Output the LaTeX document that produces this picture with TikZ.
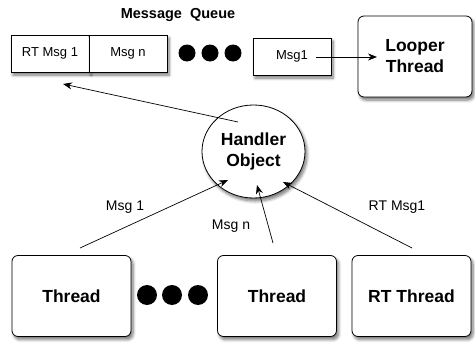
\documentclass[tikz,border=0pt]{standalone}
\usepackage{fontspec}
\setmainfont{Liberation Sans}
\usetikzlibrary{shapes.geometric,arrows.meta,shadows.blur}
\begin{document}
\begin{tikzpicture}[x=1pt,y=-1pt,
  shd/.style={blur shadow={shadow xshift=2pt,shadow yshift=-3pt,shadow blur steps=6,shadow blur radius=3pt,shadow opacity=55}},
  qbox/.style={draw,line width=0.8pt,fill=white,minimum width=78pt,minimum height=37pt,inner sep=0pt,font=\fontsize{13}{15}\selectfont,shd},
  tbox/.style={draw,rounded corners=6pt,line width=0.8pt,fill=white,minimum width=119pt,minimum height=81pt,inner sep=0pt,align=center,font=\bfseries\fontsize{17.5}{21}\selectfont,shd},
  bdot/.style={circle,fill=black,inner sep=0pt,minimum size=#1},
  arr/.style={-{Stealth[length=9pt,width=7pt]},line width=0.7pt},
  lab/.style={font=\fontsize{14}{16}\selectfont}]
\useasboundingbox (0,0) rectangle (475,343);
% title
\node[font=\bfseries\fontsize{14.5}{17}\selectfont] (title) at (178,15) {Message\ \ Queue};
% queue
\node[qbox] (q1) at (50,53.5) {RT Msg 1};
\node[qbox] (q2) at (128,53.5) {Msg n};
\node[bdot=17pt] (d1) at (187,53) {};
\node[bdot=17pt] (d2) at (210,53) {};
\node[bdot=17pt] (d3) at (233,53) {};
\node[qbox] (q3) at (292,56.5) {Msg1};
\node[tbox,minimum width=114pt] (looper) at (415,56.5) {Looper\\Thread};
% handler
\node[ellipse,draw,line width=0.8pt,fill=white,minimum width=103pt,minimum height=93pt,inner sep=0pt,align=center,font=\bfseries\fontsize{17.5}{21}\selectfont,shd] (ho) at (253.5,151.5) {Handler\\Object};
% bottom
\node[tbox] (t1) at (71.5,296) {Thread};
\node[bdot=20pt] (e1) at (147,295) {};
\node[bdot=20pt] (e2) at (172,295) {};
\node[bdot=20pt] (e3) at (198,295) {};
\node[tbox] (t2) at (277,296) {Thread};
\node[tbox] (t3) at (411.5,296) {RT Thread};
% connector end points
\coordinate (q3s) at (316,57);
\coordinate (lin) at (377,57);
\coordinate (hos) at (238,122);
\coordinate (qin) at (63,84);
\coordinate (t1s) at (80,248);
\coordinate (h1) at (228,180);
\coordinate (t2s) at (273,243);
\coordinate (h2) at (257,185);
\coordinate (t3s) at (412,248);
\coordinate (h3) at (283,182);
\draw[arr] (q3s) -- (lin);
\draw[arr] (hos) -- (qin);
\draw[arr] (t1s) -- (h1);
\draw[arr] (t2s) -- (h2);
\draw[arr] (t3s) -- (h3);
% labels
\node[lab] (l1) at (125,207) {Msg 1};
\node[lab] (l2) at (231,226) {Msg n};
\node[lab] (l3) at (397,207) {RT Msg1};
\end{tikzpicture}
\end{document}
